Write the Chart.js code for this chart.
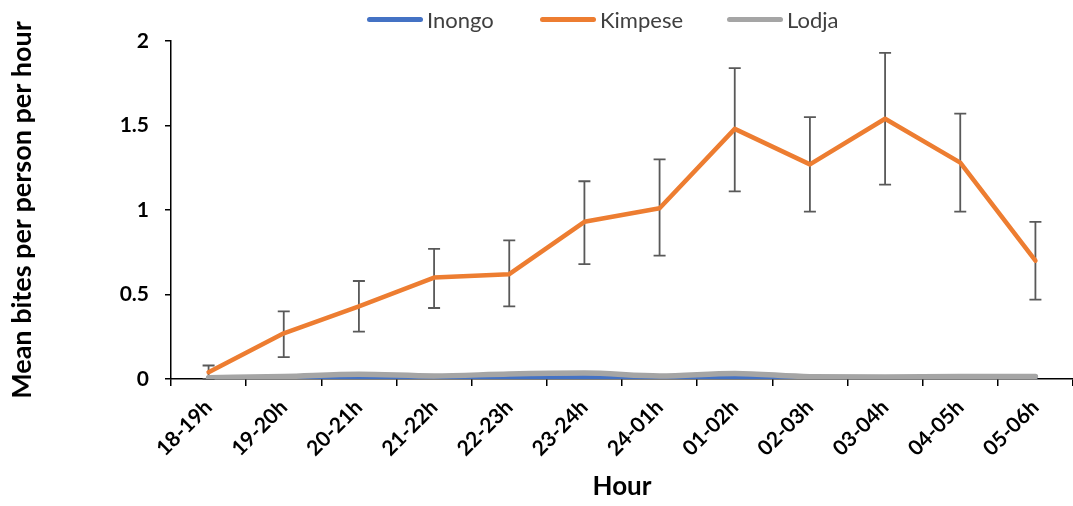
<!DOCTYPE html>
<html>
<head>
<meta charset="utf-8">
<script src="https://cdn.jsdelivr.net/npm/chart.js@4"></script>
<style>
  html, body { margin: 0; padding: 0; background: #fff; }
  #wrap { position: relative; width: 1073px; height: 506px; }
  #legend { position: absolute; top: 5px; left: 0; width: 1073px; height: 28px; font-family: Lato, sans-serif; font-size: 22px; color: #404040; }
  .item { position: absolute; top: 0; display: flex; align-items: center; height: 28px; }
  .swatch { width: 56px; height: 5px; border-radius: 3px; margin-right: 4px; }
</style>
</head>
<body>
<div id="wrap">
  <canvas id="chart" width="1073" height="506"></canvas>
  <div id="legend"></div>
</div>
<script>
// ===== Data =====
const hours = ["18-19h", "19-20h", "20-21h", "21-22h", "22-23h", "23-24h", "24-01h", "01-02h", "02-03h", "03-04h", "04-05h", "05-06h"];
const inongo = [0, 0.002, 0.01, 0, 0.008, 0.012, 0.004, 0.012, 0.003, 0, 0, 0];
const kimpese = [0.04, 0.27, 0.43, 0.60, 0.62, 0.93, 1.01, 1.48, 1.27, 1.54, 1.28, 0.70];
const kimpeseHigh = [0.08, 0.40, 0.58, 0.77, 0.82, 1.17, 1.30, 1.84, 1.55, 1.93, 1.57, 0.93];
const kimpeseLow = [0, 0.13, 0.28, 0.42, 0.43, 0.68, 0.73, 1.11, 0.99, 1.15, 0.99, 0.47];
const lodja = [0.008, 0.015, 0.028, 0.018, 0.03, 0.035, 0.018, 0.033, 0.014, 0.012, 0.015, 0.015];
const yTicks = [0, 0.5, 1, 1.5, 2];

const colors = { Inongo: "#4472C4", Kimpese: "#ED7D31", Lodja: "#A5A5A5" };
const legendLeft = { Inongo: 367, Kimpese: 540, Lodja: 727 };

// ===== Legend (HTML) =====
const legendEl = document.getElementById("legend");
Object.keys(colors).forEach(name => {
  const item = document.createElement("div");
  item.className = "item";
  item.style.left = legendLeft[name] + "px";
  item.innerHTML = `<span class="swatch" style="background:${colors[name]}"></span><span>${name}</span>`;
  legendEl.appendChild(item);
});

// ===== Error bars for Kimpese =====
const errorBars = {
  id: "errorBars",
  beforeDatasetsDraw(chart) {
    const { ctx, scales: { x, y } } = chart;
    ctx.save();
    ctx.strokeStyle = "#595959";
    ctx.lineWidth = 1.8;
    kimpese.forEach((v, i) => {
      const px = x.getPixelForValue(i);
      const top = y.getPixelForValue(kimpeseHigh[i]);
      const bot = y.getPixelForValue(kimpeseLow[i]);
      ctx.beginPath();
      ctx.moveTo(px, top); ctx.lineTo(px, bot);
      ctx.moveTo(px - 6, top); ctx.lineTo(px + 6, top);
      ctx.moveTo(px - 6, bot); ctx.lineTo(px + 6, bot);
      ctx.stroke();
    });
    ctx.restore();
  }
};

const tickFont = { family: "Lato, sans-serif", size: 21, weight: "bold" };

new Chart(document.getElementById("chart").getContext("2d"), {
  type: "line",
  data: {
    labels: hours,
    datasets: [
      { label: "Kimpese", data: kimpese, borderColor: colors.Kimpese, borderWidth: 4.5, tension: 0, order: 0 },
      { label: "Lodja", data: lodja, borderColor: colors.Lodja, borderWidth: 5.5, cubicInterpolationMode: "monotone", order: 1 },
      { label: "Inongo", data: inongo, borderColor: colors.Inongo, borderWidth: 4, cubicInterpolationMode: "monotone", order: 2 }
    ]
  },
  options: {
    responsive: false,
    animation: false,
    layout: { padding: { top: 41, right: 0, bottom: 0, left: 0 } },
    elements: { point: { radius: 0 }, line: { borderCapStyle: "round", borderJoinStyle: "round" } },
    scales: {
      x: {
        offset: true,
        grid: { offset: true, drawOnChartArea: false, drawTicks: true, tickLength: 7, color: "#000", lineWidth: 1.5 },
        border: { display: true, color: "#000", width: 1.5 },
        ticks: { color: "#000", font: tickFont, minRotation: 45, maxRotation: 45, autoSkip: false, padding: 9 },
        title: { display: true, text: "Hour", color: "#000", font: { family: "Lato, sans-serif", size: 26, weight: "bold" }, padding: { top: 0, bottom: 4 } },
        afterFit(scale) { scale.height = 127; }
      },
      y: {
        min: 0,
        max: 2,
        afterBuildTicks(scale) { scale.ticks = yTicks.map(v => ({ value: v })); },
        grid: { drawOnChartArea: false, drawTicks: true, tickLength: 6, color: "#000", lineWidth: 1.5 },
        border: { display: true, color: "#000", width: 1.5 },
        ticks: { color: "#000", font: tickFont, padding: 16, callback: v => String(v) },
        title: { display: true, text: "Mean bites per person per hour", color: "#000", font: { family: "Lato, sans-serif", size: 27, weight: "bold" }, padding: { top: 6, bottom: 0 } },
        afterFit(scale) { scale.width = 171; }
      }
    },
    plugins: {
      legend: { display: false },
      tooltip: { enabled: false }
    }
  },
  plugins: [errorBars]
});
</script>
</body>
</html>
